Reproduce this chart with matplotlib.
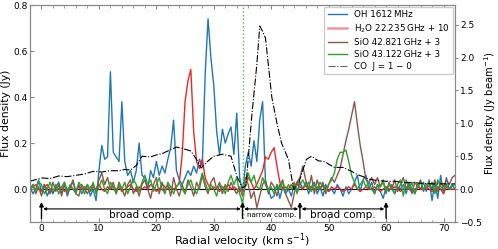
import numpy as np
import matplotlib
matplotlib.use("Agg")
import matplotlib.pyplot as plt

# velocity grid (km/s)
velocity = np.arange(-2.0, 72.01, 0.5)

oh_1612 = [
    0.01, -0.02, 0.0, 0.04, -0.01, 0.02, -0.03, 0.0, -0.02, 0.01,
    0.03, -0.02, 0.02, -0.03, 0.01, 0.03, -0.01, 0.02, -0.02, 0.0,
    0.02, -0.03, 0.0, -0.05, 0.08, 0.19, 0.13, 0.14, 0.51, 0.16,
    0.14, 0.12, 0.38, 0.12, 0.06, 0.08, 0.03, 0.08, 0.2, 0.06,
    0.05, 0.0, 0.08, 0.05, 0.12, 0.06, 0.1, 0.07, 0.13, 0.18,
    0.30, 0.08, 0.04, 0.02, 0.05, 0.08, 0.06, 0.1, 0.07, 0.13,
    0.1, 0.5, 0.74, 0.57, 0.45, 0.25, 0.15, 0.26, 0.2, 0.24,
    0.27, 0.15, 0.33, 0.05, -0.01, 0.1, 0.16, 0.1, 0.21, 0.12,
    0.3, 0.38, 0.03, 0.0, -0.04, -0.03, 0.02, -0.04, 0.01, -0.02,
    0.0, -0.03, 0.02, -0.01, 0.03, 0.0, 0.03, -0.02, 0.01, 0.03,
    -0.02, 0.01, -0.03, 0.02, -0.01, 0.0, -0.02, 0.02, 0.0, -0.03,
    0.01, -0.02, 0.0, 0.03, 0.06, -0.01, 0.04, 0.06, 0.0, 0.03,
    -0.02, 0.02, -0.01, -0.04, 0.01, -0.01, 0.02, -0.02, 0.01, 0.0,
    0.02, -0.02, 0.03, 0.0, -0.02, 0.02, 0.0, 0.03, -0.01, 0.04,
    -0.05, 0.03, -0.04, 0.06, -0.02, 0.05, 0.0, 0.02, 0.0,
]

h2o_22 = [
    0.0, 0.01, 0.02, 0.0, -0.01, 0.01, 0.02, 0.0, -0.01, 0.01,
    0.0, 0.01, -0.01, 0.0, 0.01, 0.0, -0.01, 0.01, 0.0, 0.01,
    0.0, -0.01, 0.01, 0.0, 0.02, 0.0, -0.01, 0.01, 0.0, 0.01,
    0.0, 0.01, -0.01, 0.0, 0.01, 0.02, 0.0, -0.01, 0.01, 0.0,
    0.01, 0.0, 0.02, 0.01, -0.01, 0.0, 0.02, 0.01, 0.0, 0.01,
    0.0, 0.01, 0.03, 0.15, 0.38, 0.47, 0.52, 0.25, 0.12, 0.09,
    0.13, 0.05, 0.02, 0.0, 0.01, 0.0, -0.01, 0.01, 0.0, 0.02,
    0.0, 0.01, 0.0, -0.01, 0.0, 0.02, 0.05, 0.03, 0.0, 0.02,
    0.05, 0.08, 0.14, 0.13, 0.16, 0.18, 0.1, 0.03, 0.0, 0.01,
    0.0, 0.02, 0.01, 0.03, 0.01, 0.0, 0.02, 0.0, 0.01, 0.0,
    0.01, 0.0, 0.02, 0.0, -0.01, 0.01, 0.0, 0.01, 0.0, -0.01,
    0.0, 0.01, 0.0, 0.02, 0.0, -0.01, 0.0, 0.01, 0.0, 0.0,
    0.01, 0.0, -0.01, 0.0, 0.01, 0.0, 0.0, 0.01, 0.0, -0.01,
    0.0, 0.01, 0.0, -0.01, 0.0, 0.01, 0.0, 0.0, 0.01, 0.0,
    -0.01, 0.0, 0.01, 0.0, -0.02, 0.01, 0.0, 0.0, 0.0,
]

sio_42 = [
    -0.01, 0.02, -0.02, 0.01, -0.03, 0.02, 0.0, -0.02, 0.03, -0.01,
    0.02, -0.03, 0.03, -0.02, 0.01, 0.04, -0.02, -0.03, 0.02, 0.0,
    -0.02, 0.01, 0.02, -0.01, 0.04, 0.07, 0.02, 0.05, 0.0, 0.03,
    -0.02, 0.03, 0.0, -0.03, 0.02, 0.04, -0.02, 0.01, -0.03, 0.02,
    0.04, 0.0, -0.04, 0.02, 0.05, -0.02, 0.03, -0.01, 0.02, -0.03,
    0.05, 0.0, -0.03, 0.02, -0.02, 0.04, 0.01, -0.03, 0.03, 0.0,
    0.06, 0.01, -0.02, 0.03, 0.05, 0.0, 0.03, -0.02, 0.02, -0.01,
    0.03, 0.0, -0.02, 0.01, -0.03, 0.05, 0.02, -0.04, -0.01, -0.08,
    -0.03, 0.02, 0.04, -0.02, 0.03, 0.01, -0.03, 0.02, 0.04, -0.02,
    -0.05, -0.08, -0.02, 0.03, 0.05, 0.1, 0.04, 0.0, 0.06, -0.02,
    0.04, 0.0, 0.03, -0.02, 0.02, 0.05, 0.03, 0.06, 0.09, 0.15,
    0.21, 0.26, 0.32, 0.38, 0.28, 0.19, 0.12, 0.04, 0.03, 0.05,
    0.02, 0.05, 0.01, 0.04, -0.02, 0.03, 0.0, 0.04, -0.01, 0.02,
    0.05, 0.0, 0.02, -0.02, 0.03, 0.01, 0.04, -0.01, 0.02, 0.03,
    0.0, 0.04, -0.01, 0.03, 0.01, 0.04, 0.02, 0.05, 0.06,
]

sio_43 = [
    0.0, 0.02, -0.01, 0.03, 0.02, -0.02, 0.0, 0.03, -0.01, 0.02,
    -0.02, 0.01, 0.03, -0.01, 0.02, 0.0, -0.02, 0.03, 0.01, -0.02,
    0.02, -0.01, 0.03, -0.02, 0.01, 0.04, 0.0, -0.02, 0.03, 0.01,
    -0.02, 0.02, 0.0, 0.03, -0.02, 0.01, 0.04, 0.02, -0.01, 0.03,
    0.06, 0.02, 0.04, -0.01, 0.02, 0.05, 0.0, -0.02, 0.03, 0.01,
    -0.02, 0.01, 0.03, 0.0, -0.02, 0.02, 0.04, 0.0, -0.02, 0.02,
    0.07, 0.03, -0.01, 0.02, 0.0, -0.03, 0.02, 0.01, -0.02, 0.03,
    0.06, 0.02, 0.05, -0.02, -0.06, 0.02, 0.07, 0.03, 0.06, 0.01,
    0.0, 0.05, 0.02, -0.01, 0.01, -0.02, 0.02, 0.0, 0.03, -0.01,
    0.02, 0.0, 0.03, -0.02, 0.02, 0.04, 0.01, 0.03, -0.01, 0.02,
    0.0, 0.03, 0.01, -0.01, 0.02, 0.04, 0.07, 0.13, 0.16, 0.16,
    0.17, 0.12, 0.06, 0.03, 0.0, 0.02, 0.04, 0.01, 0.03, 0.0,
    -0.02, 0.02, 0.01, 0.03, -0.01, 0.02, 0.0, -0.02, 0.02, 0.04,
    -0.03, 0.04, 0.0, 0.03, -0.02, 0.01, 0.03, 0.0, 0.02, 0.01,
    0.03, -0.02, 0.04, 0.01, 0.0, 0.02, 0.0, 0.01, 0.02,
]

# CO J=1-0 (Jy/beam, right axis)
co_velocity = [-2, 0, 1.5, 3, 4.5, 6, 7.5, 9, 10.5, 12, 13.5, 14.5, 15.5, 16.5, 17.5,
               19, 20, 21, 22, 23.5, 24.5, 26, 27, 27.8, 28.9, 30, 31.5, 33, 34,
               35, 35.6, 36.6, 37.5, 38, 38.5, 39, 40.1, 41, 41.8, 43, 43.9, 44.7,
               46.1, 47, 48.2, 49.3, 50, 51, 52.5, 54, 55, 56, 57, 58.5, 60, 61.5,
               63, 64.5, 66, 68, 70, 72]
co_flux = [0.12, 0.17, 0.16, 0.2, 0.19, 0.21, 0.23, 0.27, 0.26, 0.28, 0.28, 0.30, 0.29,
           0.36, 0.5, 0.49, 0.52, 0.54, 0.58, 0.64, 0.62, 0.58, 0.45, 0.32, 0.42, 0.5,
           0.53, 0.5, 0.2, 0.02, 0.05, 1.1, 1.9, 2.48, 2.4, 2.3, 1.4, 1.0, 0.7, 0.45,
           0.0, 0.07, 0.45, 0.5, 0.43, 0.42, 0.38, 0.33, 0.33, 0.27, 0.22, 0.19, 0.15,
           0.13, 0.12, 0.12, 0.1, 0.1, 0.09, 0.08, 0.08, 0.08]

comp_bounds = [0, 35, 45, 60]
comp_labels = ["broad comp.", "narrow comp.", "broad comp."]

fig = plt.figure(figsize=(4.98, 2.49), dpi=100)
ax = fig.add_axes([30/498, 1-222/249, (455-30)/498, (222-5)/249])
ax2 = ax.twinx()

lw = 1.0
l1, = ax.plot(velocity, oh_1612, color="#1f77b4", lw=lw, label="OH 1612\u2009MHz")
l2, = ax.plot(velocity, h2o_22, color="#e8292b", lw=lw, label="H$_2$O 22.235\u2009GHz + 10")
l3, = ax.plot(velocity, sio_42, color="#8c564b", lw=lw, label="SiO 42.821\u2009GHz + 3")
l4, = ax.plot(velocity, sio_43, color="#2ca02c", lw=lw, label="SiO 43.122\u2009GHz + 3")
ax.axhline(0, color="black", lw=0.8, zorder=1)
ax.axvline(35, color="#44c944", lw=1.0, ls=":")
l5, = ax2.plot(co_velocity, co_flux, color="black", lw=0.8, ls="-.", label="CO  J = 1 − 0")

ax.set_xlim(-2, 72)
ax.set_ylim(-0.5/3.5, 0.8)
ax2.set_ylim(-0.5, 2.8)
ax.set_yticks([0.0, 0.2, 0.4, 0.6, 0.8])
ax2.set_yticks([-0.5, 0.0, 0.5, 1.0, 1.5, 2.0, 2.5])
ax.set_xticks([0, 10, 20, 30, 40, 50, 60, 70])
ax.set_xticks(np.arange(-2, 73, 2), minor=True)

# component markers
y_h = -0.086
for b in comp_bounds:
    ax.annotate("", xy=(b, -0.056), xytext=(b, -0.127),
                arrowprops=dict(arrowstyle="-|>", color="black", lw=1.0,
                                mutation_scale=6, shrinkA=0, shrinkB=0))
sizes = [7.5, 5.2, 7.5]
for i in range(3):
    ax.annotate("", xy=(comp_bounds[i] + 0.3, y_h), xytext=(comp_bounds[i+1] - 0.3, y_h),
                arrowprops=dict(arrowstyle="<|-|>", color="black", lw=0.8,
                                mutation_scale=4, shrinkA=0, shrinkB=0))
    ax.text((comp_bounds[i] + comp_bounds[i+1]) / 2, -0.113, comp_labels[i],
            ha="center", va="center", fontsize=sizes[i])

for a in (ax, ax2):
    for s in a.spines.values():
        s.set_color("#888888")
ax.tick_params(axis="both", which="both", direction="in", color="#888888", labelsize=6.5,
               top=True, pad=1.5)
ax.tick_params(axis="x", which="major", length=3)
ax.tick_params(axis="x", which="minor", length=1.8)
ax.tick_params(axis="y", which="major", length=3, right=False, pad=1.5)
ax2.tick_params(axis="y", direction="out", color="#888888", labelsize=6.5, length=2.5, pad=1)

ax.set_xlabel("Radial velocity (km s$^{-1}$)", fontsize=8.2, labelpad=-1)
ax.set_ylabel("Flux density (Jy)", fontsize=7.8, labelpad=1.5)
ax2.set_ylabel("Flux density (Jy beam$^{-1}$)", fontsize=7.2, labelpad=0)

leg = ax2.legend(handles=[l1, l2, l3, l4, l5], loc="upper right", fontsize=6.3,
                 framealpha=1.0, edgecolor="#cccccc", fancybox=True,
                 borderaxespad=0.2, handlelength=2.2, labelspacing=0.35)
leg.legend_handles[1].set_alpha(0.5)
leg.legend_handles[1].set_linewidth(1.8)
leg.legend_handles[4].set_color("#666666")

fig.savefig("out.png", dpi=100)
